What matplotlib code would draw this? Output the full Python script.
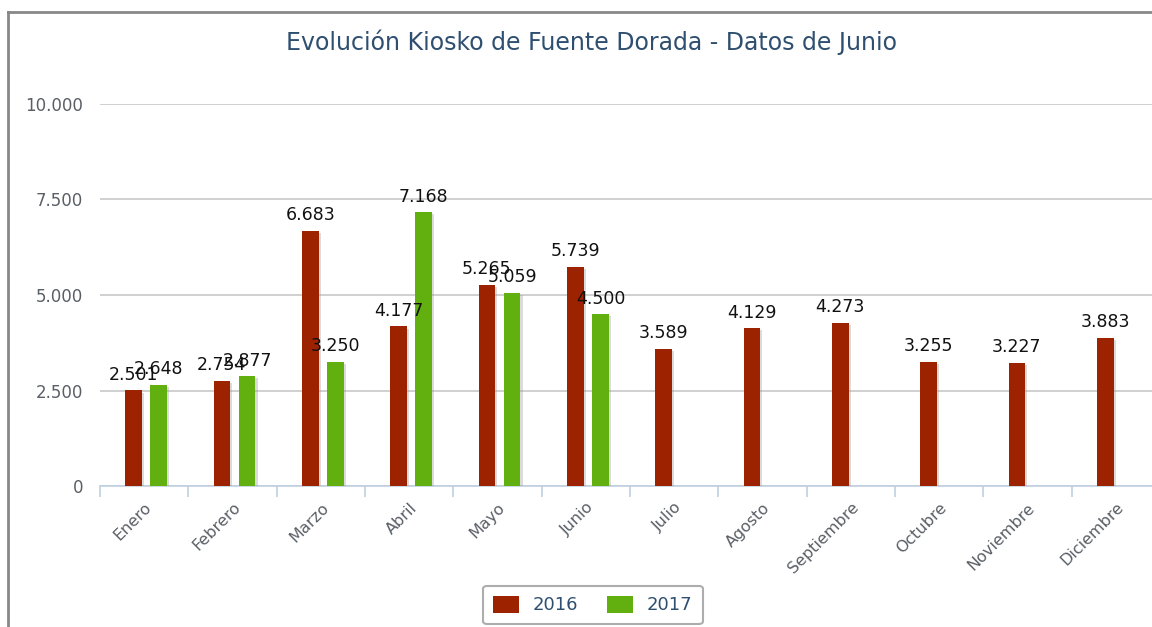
import matplotlib.pyplot as plt
import matplotlib.patheffects as pe
import numpy as np

# Datos
meses = ['Enero', 'Febrero', 'Marzo', 'Abril', 'Mayo', 'Junio', 'Julio',
         'Agosto', 'Septiembre', 'Octubre', 'Noviembre', 'Diciembre']
ventas_2016 = [2501, 2754, 6683, 4177, 5265, 5739, 3589, 4129, 4273, 3255, 3227, 3883]
ventas_2017 = [2648, 2877, 3250, 7168, 5059, 4500]

col_2016 = '#9c2200'
col_2017 = '#62b010'


def miles(v):
    return f'{v:,.0f}'.replace(',', '.')


fig = plt.figure(figsize=(11.52, 6.27), dpi=100)
ax = fig.add_axes([100 / 1152, 141 / 627, 1060 / 1152, 382 / 627])

x = np.arange(len(meses))
sombra = [pe.SimplePatchShadow(offset=(1.5, -1.5), shadow_rgbFace='#999999', alpha=0.35), pe.Normal()]
b1 = ax.bar(x - 0.12, ventas_2016, width=0.19, color=col_2016, label='2016',
            path_effects=sombra, zorder=3)
x2 = np.arange(len(ventas_2017))
b2 = ax.bar(x2 + 0.165, ventas_2017, width=0.19, color=col_2017, label='2017',
            path_effects=sombra, zorder=3)

for xi, v in zip(x - 0.12, ventas_2016):
    ax.text(xi, v + 170, miles(v), ha='center', va='bottom', fontsize=12.5, color='#111111', zorder=4)
for xi, v in zip(x2 + 0.165, ventas_2017):
    ax.text(xi, v + 170, miles(v), ha='center', va='bottom', fontsize=12.5, color='#111111', zorder=4)

ax.set_xlim(-0.5, 11.5)
ax.set_ylim(0, 10000)
ax.set_yticks([0, 2500, 5000, 7500, 10000])
ax.set_yticklabels([miles(v) for v in [0, 2500, 5000, 7500, 10000]])
ax.yaxis.grid(True, color='#c8c8c8', linewidth=1.2)
ax.set_axisbelow(True)
ax.tick_params(axis='y', length=0, labelsize=12, labelcolor='#5a5f66', pad=12)

ax.set_xticks(x)
ax.set_xticklabels(meses, rotation=45, ha='right', rotation_mode='anchor',
                   fontsize=11.5, color='#5a5f66')
ax.tick_params(axis='x', length=0, pad=10)
ax.set_xticks(np.arange(-0.5, 12, 1), minor=True)
ax.tick_params(axis='x', which='minor', length=8, color='#c0d0e0', width=1.2)

for s in ['top', 'right', 'left']:
    ax.spines[s].set_visible(False)
ax.spines['bottom'].set_color('#c0d0e0')
ax.spines['bottom'].set_linewidth(1.2)

fig.text(591 / 1152, 1 - 42 / 627, 'Evolución Kiosko de Fuente Dorada - Datos de Junio',
         ha='center', va='center', fontsize=17, color='#2f4f70')

leg = fig.legend(handles=[b1, b2], labels=['2016', '2017'], loc='center',
                 bbox_to_anchor=(593 / 1152, 1 - 605 / 627), ncol=2, frameon=True,
                 fontsize=13, handlelength=1.4, handleheight=1.1, columnspacing=1.6,
                 borderpad=0.55, fancybox=True, labelcolor='#2f4f70')
leg.get_frame().set_edgecolor('#999999')
leg.get_frame().set_linewidth(1.5)
for h in leg.legend_handles:
    h.set_path_effects([])

# marco del gráfico
fig.add_artist(plt.Line2D([8 / 1152, 8 / 1152], [0, 1 - 12 / 627], transform=fig.transFigure,
                          color='#888888', linewidth=2))
fig.add_artist(plt.Line2D([8 / 1152, 1], [1 - 12 / 627, 1 - 12 / 627], transform=fig.transFigure,
                          color='#888888', linewidth=2))

fig.savefig('out.png', dpi=100)
